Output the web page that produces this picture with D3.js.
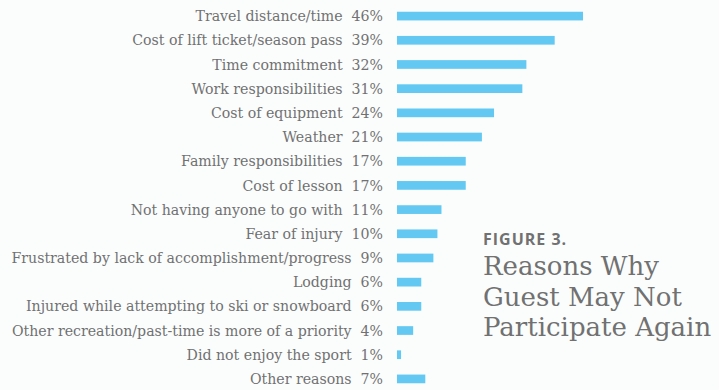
<!DOCTYPE html>
<html>
<head>
<meta charset="utf-8">
<script src="https://cdn.jsdelivr.net/npm/d3@7"></script>
<style>
  body { margin: 0; background: #fbfdfd; }
  svg { display: block; }
</style>
</head>
<body>
<svg id="chart" width="719" height="390"></svg>
<script>
// reasons and share of guests (%)
var reasons = [
    "Travel distance/time",
    "Cost of lift ticket/season pass",
    "Time commitment",
    "Work responsibilities",
    "Cost of equipment",
    "Weather",
    "Family responsibilities",
    "Cost of lesson",
    "Not having anyone to go with",
    "Fear of injury",
    "Frustrated by lack of accomplishment/progress",
    "Lodging",
    "Injured while attempting to ski or snowboard",
    "Other recreation/past-time is more of a priority",
    "Did not enjoy the sport",
    "Other reasons"
];
var percents = [46, 39, 32, 31, 24, 21, 17, 17, 11, 10, 9, 6, 6, 4, 1, 7];
var titleLines = ["Reasons Why", "Guest May Not", "Participate Again"];

var svg = d3.select("#chart");
var textColor = "#717171";
var barColor = "#63c9f2";

var data = reasons.map(function (r, i) {
    return {reason: r, value: percents[i]};
});

var x = d3.scaleLinear()
    .domain([0, 46])
    .range([397, 583]);
var y = d3.scaleBand()
    .domain(reasons)
    .range([4, 391])
    .paddingInner(0.64)
    .paddingOuter(0.32);

svg.selectAll("rect.bar")
    .data(data)
    .enter()
    .append("rect")
    .attr("class", "bar")
    .attr("x", x(0))
    .attr("y", function (d) { return y(d.reason); })
    .attr("width", function (d) { return x(d.value) - x(0); })
    .attr("height", y.bandwidth())
    .attr("fill", barColor);

svg.selectAll("text.label")
    .data(data)
    .enter()
    .append("text")
    .attr("class", "label")
    .attr("x", 383)
    .attr("y", function (d) { return y(d.reason) + y.bandwidth() / 2; })
    .attr("dy", "0.36em")
    .attr("text-anchor", "end")
    .style("font-family", "DejaVu Serif")
    .style("font-size", "14.15px")
    .style("fill", textColor)
    .style("white-space", "pre")
    .text(function (d) { return d.reason + "  " + d.value + "%"; });

// title block
svg.append("text")
    .attr("x", 483)
    .attr("y", 245)
    .style("font-family", "Open Sans")
    .style("font-weight", "bold")
    .style("font-size", "16px")
    .style("letter-spacing", "1px")
    .style("fill", textColor)
    .text("FIGURE 3.");

svg.selectAll("text.title")
    .data(titleLines)
    .enter()
    .append("text")
    .attr("class", "title")
    .attr("x", 483)
    .attr("y", function (d, i) { return 275 + i * 30.5; })
    .style("font-family", "DejaVu Serif")
    .style("font-size", "26px")
    .style("fill", textColor)
    .text(function (d) { return d; });
</script>
</body>
</html>
